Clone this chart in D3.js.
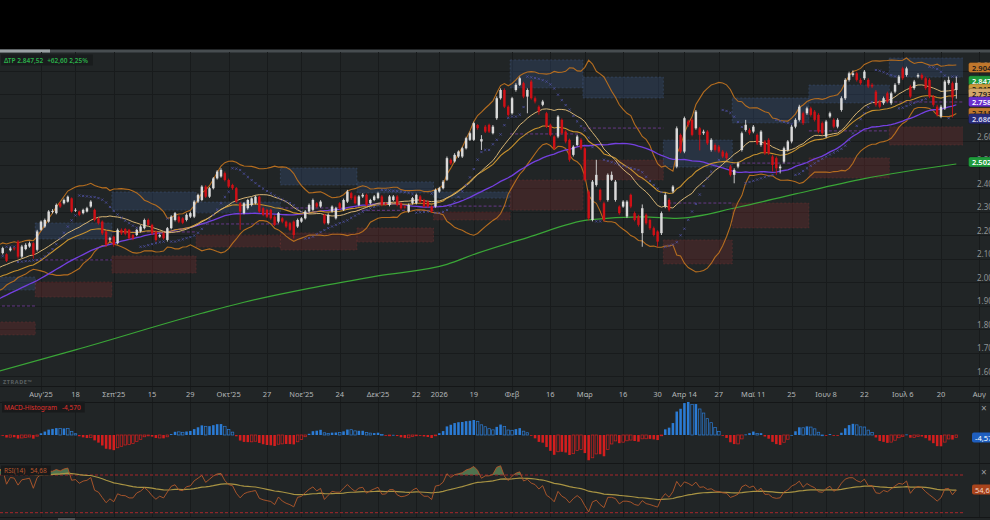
<!DOCTYPE html>
<html>
<head>
<meta charset="utf-8">
<script src="https://cdn.jsdelivr.net/npm/d3@7"></script>
<style>
  body { margin: 0; background: #000; }
  svg { display: block; font-family: "Noto Sans", Roboto, sans-serif; }
</style>
</head>
<body>
<svg id="chart" width="990" height="520"></svg>
<script>
// ---- data (price in index points) ----
const startDate = "2025-07-18";
const holidays = ["2025-08-15","2025-10-28","2025-12-24","2025-12-25","2025-12-26","2026-01-01","2026-01-06",
  "2026-02-23","2026-03-25","2026-04-08","2026-04-09","2026-04-10","2026-04-13","2026-05-01","2026-06-01"];

const opens = [2130,2123,2118,2135,2143,2172,2108,2140,2151,
  2165,2137,2222,2236,2257,2298,2293,2335,2335,2342,
  2356,2305,2300,2293,2300,2321,2307,2271,2257,2215,
  2180,2193,2165,2222,2225,2222,2200,2200,2215,2229,
  2264,2243,2215,2193,2207,2179,2229,2264,2278,2271,
  2264,2278,2278,2342,2349,2406,2363,2399,2441,2449,
  2463,2434,2413,2399,2335,2293,2314,2328,2335,2363,
  2314,2307,2307,2278,2257,2271,2257,2250,2257,2236,
  2257,2271,2300,2307,2335,2321,
  2286,2250,2300,2271,2335,2307,2342,2378,2364,2328,
  2364,2371,2335,2349,2357,2364,2335,2328,2349,2364,
  2335,2321,2300,2335,2335,2364,2349,2342,2321,2321,
  2385,2399,2435,2520,2513,2534,2534,2569,2605,2605,
  2668,2598,2661,2669,2633,2697,2782,2817,2746,2718,
  2817,2839,2846,2789,2853,2782,2746,2754,2718,2669,
  2619,2619,2690,2640,2605,2541,2583,2605,2569,2385,
  2264,2413,2392,2335,2349,2435,2349,2321,2321,2279,
  2371,2293,2279,
  2208,2286,2264,2229,2215,2208,2321,2349,2385,2491,
  2626,2555,2683,2690,2654,2654,2633,2640,2562,2583,
  2576,2555,2548,2491,2456,2491,2562,2647,2647,2640,
  2626,2583,2598,2605,2534,2527,2484,2512,2562,2598,
  2661,2690,2718,2718,2739,2725,2711,2676,2619,2704,
  2690,2661,2732,2782,2860,2881,2888,2860,2867,2860,
  2839,2810,2768,2761,2803,2761,2810,2846,2909,2881,
  2832,2825,2874,2881,2867,2860,2789,2746,2704,2739,
  2846,2846,2817];
const highs = [2140,2150,2122,2150,2148,2178,2158,2165,2172,
  2170,2222,2262,2270,2306,2310,2334,2340,2355,2368,
  2360,2314,2304,2312,2320,2348,2312,2276,2262,2220,
  2192,2198,2228,2228,2230,2226,2205,2226,2242,2270,
  2270,2248,2220,2206,2212,2234,2284,2298,2284,2276,
  2292,2300,2348,2376,2412,2412,2404,2447,2476,2484,
  2470,2440,2418,2404,2340,2340,2354,2360,2368,2368,
  2320,2312,2312,2284,2298,2276,2262,2255,2262,2270,
  2276,2306,2334,2355,2340,2348,
  2290,2292,2326,2320,2340,2355,2392,2384,2370,2370,
  2378,2376,2354,2370,2384,2370,2340,2370,2370,2370,
  2340,2326,2334,2362,2376,2370,2354,2348,2326,2398,
  2405,2434,2534,2526,2548,2560,2575,2618,2640,2682,
  2672,2625,2668,2674,2668,2790,2824,2824,2752,2788,
  2846,2874,2852,2824,2860,2790,2752,2775,2724,2674,
  2624,2710,2696,2646,2610,2582,2626,2612,2574,2392,
  2434,2520,2398,2342,2462,2470,2434,2326,2348,2348,
  2376,2300,2286,
  2330,2292,2270,2236,2220,2300,2380,2356,2412,2662,
  2632,2704,2690,2697,2732,2660,2648,2646,2612,2590,
  2583,2562,2555,2498,2484,2512,2640,2690,2654,2668,
  2632,2646,2604,2612,2540,2534,2500,2576,2604,2668,
  2697,2754,2725,2746,2746,2732,2718,2683,2690,2725,
  2697,2697,2790,2867,2895,2900,2895,2867,2902,2867,
  2846,2817,2775,2789,2810,2810,2846,2881,2916,2916,
  2839,2860,2888,2888,2874,2867,2796,2754,2754,2860,
  2874,2853,2874];
const lows = [2118,2117,2085,2130,2134,2100,2102,2135,2146,
  2100,2130,2218,2230,2252,2292,2288,2315,2330,2338,
  2295,2298,2280,2288,2296,2316,2258,2244,2200,2150,
  2172,2150,2160,2200,2198,2180,2178,2195,2210,2224,
  2238,2200,2172,2188,2180,2172,2224,2258,2250,2246,
  2258,2272,2272,2336,2344,2358,2358,2394,2436,2444,
  2428,2400,2392,2336,2222,2288,2308,2322,2330,2294,
  2280,2272,2265,2238,2250,2250,2230,2216,2185,2230,
  2252,2266,2295,2302,2316,2316,
  2245,2244,2295,2266,2308,2302,2336,2350,2330,2322,
  2358,2322,2330,2344,2352,2322,2325,2322,2344,2322,
  2308,2312,2295,2330,2330,2336,2316,2316,2294,2316,
  2380,2394,2430,2498,2508,2528,2528,2564,2600,2600,
  2648,2562,2634,2634,2628,2690,2776,2740,2704,2712,
  2810,2834,2782,2718,2776,2760,2712,2748,2655,2620,
  2562,2612,2626,2590,2512,2534,2578,2562,2428,2262,
  2258,2406,2342,2258,2342,2430,2342,2286,2316,2272,
  2314,2258,2236,
  2150,2244,2222,2194,2150,2200,2314,2300,2378,2484,
  2548,2548,2660,2620,2648,2560,2626,2583,2555,2555,
  2548,2527,2520,2449,2420,2484,2555,2640,2626,2633,
  2583,2576,2541,2541,2470,2456,2462,2505,2555,2590,
  2654,2683,2668,2711,2704,2683,2633,2626,2612,2697,
  2654,2654,2725,2775,2853,2874,2853,2839,2860,2825,
  2825,2746,2739,2754,2761,2754,2803,2839,2860,2874,
  2782,2818,2867,2860,2818,2782,2746,2704,2697,2732,
  2839,2700,2780];
const closes = [2128,2144,2090,2143,2140,2108,2151,2158,2165,
  2115,2215,2257,2264,2300,2302,2328,2321,2349,2363,
  2300,2307,2286,2307,2314,2342,2264,2250,2207,2158,
  2186,2158,2222,2207,2205,2186,2186,2222,2236,2264,
  2243,2207,2179,2200,2186,2229,2278,2293,2257,2252,
  2286,2293,2342,2371,2406,2363,2399,2441,2470,2477,
  2434,2406,2399,2342,2300,2335,2349,2356,2363,2300,
  2286,2278,2271,2243,2293,2257,2236,2222,2200,2264,
  2271,2300,2328,2349,2321,2342,
  2250,2286,2321,2314,2314,2349,2385,2357,2335,2364,
  2371,2328,2349,2364,2378,2328,2330,2364,2364,2328,
  2314,2318,2328,2357,2371,2342,2321,2321,2300,2392,
  2399,2427,2527,2505,2541,2555,2569,2612,2633,2676,
  2655,2608,2640,2640,2661,2782,2817,2746,2711,2782,
  2839,2867,2789,2817,2782,2768,2725,2768,2661,2626,
  2569,2704,2633,2598,2520,2576,2619,2569,2435,2271,
  2427,2456,2349,2264,2456,2456,2427,2293,2342,2342,
  2321,2264,2243,
  2314,2250,2229,2200,2172,2293,2371,2307,2406,2654,
  2555,2697,2669,2626,2725,2626,2640,2590,2605,2562,
  2555,2534,2527,2456,2477,2505,2633,2669,2633,2661,
  2590,2640,2548,2548,2498,2484,2491,2569,2598,2661,
  2690,2746,2676,2739,2711,2690,2640,2633,2683,2718,
  2661,2690,2782,2860,2888,2888,2860,2846,2895,2832,
  2832,2754,2746,2782,2768,2803,2839,2874,2867,2909,
  2789,2853,2881,2867,2825,2789,2754,2711,2746,2853,
  2860,2785,2847.52];

// estimated closes before the first visible candle (feed the indicators)
const priorCloses = [1698,1712,1705,1731,1744,1729,1756,1771,1764,1778,1802,1790,1811,1826,1812,1838,1853,1840,1868,1879,
  1866,1893,1907,1895,1921,1934,1918,1947,1962,1950,1976,1985,1972,2001,2017,2003,2029,2041,2026,2055,
  2068,2052,2080,2094,2083,2105,2112,2101,2127,2134];

// 200-day average, read at a few points
const sma200Idx = [0,20,53,64,81,99,117,125,138,154,168,177,193,208,226,250];
const sma200Val = [1621,1711,1867,1914,1973,2026,2075,2123,2189,2264,2277,2271,2318,2375,2440,2502.2];

// monthly zones
const zoneMonths = ["2025-07","2025-08","2025-09","2025-10","2025-11","2025-12","2026-01","2026-02","2026-03","2026-04","2026-05","2026-06","2026-07"];
const zoneBlueTop = [2021,2251,2383,2340,2485,2426,2383,2945,2872,2604,2783,2838,2953];
const zoneBlueBot = [1966,2183,2306,2294,2413,2379,2357,2826,2783,2489,2677,2762,2872];
const zoneRedTop  = [1830,2000,2111,2200,2209,2230,2298,2434,2519,2179,2336,2528,2660];
const zoneRedBot  = [1775,1936,2038,2149,2136,2170,2264,2306,2434,2077,2230,2443,2583];
const zonePivot   = [1898,2094,2213,2247,2315,2305,2323,2630,2655,2336,2506,2643,2766];

const tickDates = ["2025-08-04","2025-08-18","2025-09-01","2025-09-15","2025-09-29","2025-10-13","2025-10-27","2025-11-10","2025-11-24",
  "2025-12-08","2025-12-22","2026-01-05","2026-01-19","2026-02-02","2026-02-16","2026-03-02","2026-03-16","2026-03-30","2026-04-14",
  "2026-04-27","2026-05-11","2026-05-25","2026-06-08","2026-06-22","2026-07-06","2026-07-20","2026-08-03"];
const tickLabels = ["Αυγ'25","18","Σεπ'25","15","29","Οκτ'25","27","Νοε'25","24","Δεκ'25","22","2026","19","Φεβ","16","Μαρ","16","30",
  "Απρ 14","27","Μαϊ 11","25","Ιουν 8","22","Ιουλ 6","20","Αυγ"];
const priceTicks = [1600,1700,1800,1900,2000,2100,2200,2300,2400,2500,2600,2700,2800,2900];

const lastVals  = [2904.1, 2847.52, 2812.6, 2793.4, 2758.3, 2711.8, 2686.5, 2502.2];
const lastTexts = ["2.904,1","2.847,52","2.812,6","2.793,4","2.758,3","2.711,8","2.686,5","2.502,2"];
const lastFills = ["#c0772c","#1f9a3b","#c99a3c","#d2a66a","#6a2fcc","#c0772c","#2a2c78","#1f9a3b"];
const lastInk   = ["#1a1a1a","#ffffff","#1a1a1a","#1a1a1a","#ffffff","#1a1a1a","#d8d8f0","#ffffff"];

// ---- calendar ----
const parse = d3.utcParse("%Y-%m-%d"), fmt = d3.utcFormat("%Y-%m-%d");
const hol = new Set(holidays);
const days = d3.utcDays(parse(startDate), parse("2026-08-08"))
  .filter(d => d.getUTCDay() % 6 !== 0 && !hol.has(fmt(d)));
const dayIndex = new Map(days.map((d, i) => [fmt(d), i]));

// ---- indicators ----
const P = priorCloses.length, N = closes.length;
const allC = priorCloses.concat(closes);
const allH = priorCloses.concat(highs), allL = priorCloses.concat(lows);

const sma = (a, n) => a.map((v, i) => i < n - 1 ? null : d3.mean(a.slice(i - n + 1, i + 1)));
const pstd = (a, n) => a.map((v, i) => {
  if (i < n - 1) return null;
  const s = a.slice(i - n + 1, i + 1), m = d3.mean(s);
  return Math.sqrt(d3.mean(s, q => (q - m) * (q - m)));
});
const ema = (a, n) => { const k = 2 / (n + 1); let e = null;
  return a.map(v => { if (v == null) return null; e = e == null ? v : v * k + e * (1 - k); return e; }); };

const mid = sma(allC, 20), sd = pstd(allC, 20);
const bbUp = mid.map((m, i) => m == null ? null : m + 2 * sd[i]);
const bbLo = mid.map((m, i) => m == null ? null : m - 2 * sd[i]);
const ema30 = ema(allC, 30);
const sma50 = sma(allC, 50);

const e12 = ema(allC, 12), e26 = ema(allC, 26);
const macd = e12.map((v, i) => v - e26[i]);
const sig = ema(macd, 9);
const hist = macd.map((v, i) => v - sig[i]);

function rsiCalc(a, n) {
  const out = [null]; let ag = 0, al = 0;
  for (let i = 1; i < a.length; i++) {
    const ch = a[i] - a[i - 1], g = Math.max(ch, 0), l = Math.max(-ch, 0);
    if (i <= n) { ag += g / n; al += l / n; out.push(i === n ? 100 - 100 / (1 + ag / (al || 1e-9)) : null); }
    else { ag = (ag * (n - 1) + g) / n; al = (al * (n - 1) + l) / n; out.push(100 - 100 / (1 + ag / (al || 1e-9))); }
  }
  return out;
}
const rsi = rsiCalc(allC, 14);
const rsiMa = ema(rsi, 30);

function psar(h, l) {
  let up = true, af = 0.02, ep = h[0], s = l[0]; const out = [s];
  for (let i = 1; i < h.length; i++) {
    s = s + af * (ep - s);
    if (up) {
      s = Math.min(s, l[i - 1], l[Math.max(i - 2, 0)]);
      if (l[i] < s) { up = false; s = ep; ep = l[i]; af = 0.02; }
      else if (h[i] > ep) { ep = h[i]; af = Math.min(af + 0.02, 0.2); }
    } else {
      s = Math.max(s, h[i - 1], h[Math.max(i - 2, 0)]);
      if (h[i] > s) { up = true; s = ep; ep = h[i]; af = 0.02; }
      else if (l[i] < ep) { ep = l[i]; af = Math.min(af + 0.02, 0.2); }
    }
    out.push(s);
  }
  return out;
}
const sar = psar(allH, allL);

const vis = a => a.slice(P);

// ---- scales ----
const W = 990, plotR = 963;
const x = d3.scaleLinear()
  .domain([dayIndex.get("2025-08-04"), dayIndex.get("2026-07-20")])
  .range([41, 941]);
const step = x(1) - x(0);
const y = d3.scaleLinear().domain([1600, 2900]).range([376, 70.5]);
const yR = d3.scaleLinear().domain([30, 70]).range([512.7, 475]);
const hVis = vis(hist);
const yM = d3.scaleLinear().domain([0, d3.max(hVis)]).range([435, 402]);

const svg = d3.select("#chart");
const defs = svg.append("defs");
defs.append("clipPath").attr("id", "cp").append("rect").attr("x", 0).attr("y", 52).attr("width", plotR).attr("height", 334);
defs.append("clipPath").attr("id", "cm").append("rect").attr("x", 0).attr("y", 402).attr("width", plotR).attr("height", 61);
defs.append("clipPath").attr("id", "cr").append("rect").attr("x", 0).attr("y", 463).attr("width", plotR).attr("height", 54);
defs.append("clipPath").attr("id", "cover").append("rect").attr("x", 0).attr("y", 463).attr("width", plotR).attr("height", yR(70) - 463);

// a row of label pieces, each placed after the previous one
const textRow = (g, x0, yy, size, color, parts, gap) => {
  let cx = x0;
  parts.forEach(p => {
    const t = g.append("text").attr("x", cx).attr("y", yy).attr("font-size", size).attr("fill", color).text(p);
    cx += t.node().getComputedTextLength() + gap;
  });
  return cx - gap;
};

// backgrounds
svg.append("rect").attr("width", W).attr("height", 520).attr("fill", "#000");
svg.append("rect").attr("y", 52).attr("width", W).attr("height", 468).attr("fill", "#212526");
svg.append("rect").attr("y", 49.5).attr("width", W).attr("height", 3).attr("fill", "#474d50");
svg.append("rect").attr("y", 49.5).attr("width", 50).attr("height", 3).attr("fill", "#9aa0a3");

// grid
const grid = svg.append("g").attr("stroke", "#181b1c").attr("stroke-width", 1);
tickDates.forEach(d => {
  const xx = Math.round(x(dayIndex.get(d))) + 0.5;
  grid.append("line").attr("x1", xx).attr("x2", xx).attr("y1", 52).attr("y2", 517);
});
priceTicks.forEach(v => {
  const yy = Math.round(y(v)) + 0.5;
  grid.append("line").attr("x1", 0).attr("x2", W).attr("y1", yy).attr("y2", yy);
});
[386.5, 402.5, 463.5, 517.5].forEach(yy =>
  svg.append("line").attr("x1", 0).attr("x2", W).attr("y1", yy).attr("y2", yy).attr("stroke", "#141617"));

// ---- price panel ----
const pp = svg.append("g").attr("clip-path", "url(#cp)");

zoneMonths.forEach((m, k) => {
  const idx = days.map((d, i) => fmt(d).slice(0, 7) === m ? i : -1).filter(i => i >= 0);
  const x0 = x(d3.min(idx)) - step / 2, x1 = x(d3.max(idx)) + step / 2;
  pp.append("rect").attr("x", x0).attr("width", x1 - x0)
    .attr("y", y(zoneBlueTop[k])).attr("height", y(zoneBlueBot[k]) - y(zoneBlueTop[k]))
    .attr("fill", "#3d5a8c").attr("fill-opacity", 0.28)
    .attr("stroke", "#4a6596").attr("stroke-opacity", 0.35).attr("stroke-dasharray", "2,2");
  pp.append("rect").attr("x", x0).attr("width", x1 - x0)
    .attr("y", y(zoneRedTop[k])).attr("height", y(zoneRedBot[k]) - y(zoneRedTop[k]))
    .attr("fill", "#8a3030").attr("fill-opacity", 0.28)
    .attr("stroke", "#8a3a3a").attr("stroke-opacity", 0.3).attr("stroke-dasharray", "2,2");
  pp.append("line").attr("x1", x0).attr("x2", x1).attr("y1", y(zonePivot[k])).attr("y2", y(zonePivot[k]))
    .attr("stroke", "#7d3fa8").attr("stroke-opacity", 0.75).attr("stroke-dasharray", "3,2");
});

const line = d3.line().defined(d => d != null).x((d, i) => x(i)).y(d => y(d));
const addLine = (data, color, w) => pp.append("path").datum(data).attr("d", line)
  .attr("fill", "none").attr("stroke", color).attr("stroke-width", w);

pp.append("path").datum(sma200Idx.map((v, k) => [v, sma200Val[k]]))
  .attr("d", d3.line().x(d => x(d[0])).y(d => y(d[1])).curve(d3.curveMonotoneX))
  .attr("fill", "none").attr("stroke", "#3aa637").attr("stroke-width", 1.2);
addLine(vis(bbUp), "#b56d1f", 1.1);
addLine(vis(bbLo), "#b56d1f", 1.1);
addLine(vis(sma50), "#7440e0", 1.3);
addLine(vis(ema30), "#c8922e", 1.1);
addLine(vis(mid), "#d6b474", 1);

// SAR crosses
const sarVis = vis(sar);
pp.append("g").attr("stroke", "#4c4f9e").attr("stroke-width", 0.8)
  .selectAll("path").data(sarVis).join("path")
  .attr("d", (d, i) => { const cx = x(i), cy = y(d), r = 1.1;
    return `M${cx - r},${cy - r}L${cx + r},${cy + r}M${cx - r},${cy + r}L${cx + r},${cy - r}`; });

// candles
const cg = pp.append("g");
const bw = step * 0.64;
d3.range(N).forEach(i => {
  const up = closes[i] >= opens[i], col = up ? "#dadada" : "#cf1016";
  cg.append("line").attr("x1", x(i)).attr("x2", x(i)).attr("y1", y(highs[i])).attr("y2", y(lows[i]))
    .attr("stroke", col).attr("stroke-width", 0.9);
  const top = y(Math.max(opens[i], closes[i])), bot = y(Math.min(opens[i], closes[i]));
  cg.append("rect").attr("x", x(i) - bw / 2).attr("width", bw).attr("y", top)
    .attr("height", Math.max(bot - top, 0.9)).attr("fill", col);
});

// top-left info
const infoBox = svg.append("rect").attr("x", 1).attr("y", 54.5).attr("height", 11).attr("fill", "#191c1d");
const infoG = svg.append("g").attr("font-weight", 600);
const infoEnd = textRow(infoG, 4, 62.5, 6.5, "#2bb04a", ["ΔΤΡ 2.847,52", "+62,60 2,25%"], 4);
infoBox.attr("width", infoEnd + 4);

svg.append("text").attr("x", 3).attr("y", 384).attr("font-size", 5.5).attr("font-weight", 700)
  .attr("fill", "#5b6163").attr("letter-spacing", 0.6).text("ZTRADE™");

// x labels
svg.append("g").selectAll("text").data(tickDates).join("text")
  .attr("x", d => x(dayIndex.get(d))).attr("y", 396.5).attr("text-anchor", "middle")
  .attr("font-size", 7.5).attr("fill", "#b3b7b8").text((d, k) => tickLabels[k]);

// price axis labels (cut by the window edge, as in the original)
svg.append("g").selectAll("text").data(priceTicks.filter(v => y(v) < 384)).join("text")
  .attr("x", 977).attr("y", v => y(v) - 1.5).attr("font-size", 8).attr("fill", "#8e9395")
  .text(v => d3.format(",")(v).replace(",", "."));

// last-value tags
const tagOrder = d3.range(lastVals.length).sort((a, b) => y(lastVals[a]) - y(lastVals[b]));
tagOrder.forEach(k => {
  const yy = y(lastVals[k]) - 2;
  svg.append("rect").attr("x", 968.5).attr("y", yy - 5).attr("width", 30).attr("height", 10).attr("rx", 2)
    .attr("fill", lastFills[k]).attr("stroke", "#000").attr("stroke-opacity", 0.35).attr("stroke-width", 0.6);
  svg.append("text").attr("x", 972).attr("y", yy + 3).attr("font-size", 7.5).attr("font-weight", 600)
    .attr("fill", lastInk[k]).text(lastTexts[k]);
});

// ---- MACD histogram ----
const mp = svg.append("g").attr("clip-path", "url(#cm)");
const mbw = step * 0.66;
hVis.forEach((h, i) => {
  const prev = i > 0 ? hVis[i - 1] : h;
  const solid = h >= 0 ? h >= prev : h <= prev;
  const col = h >= 0 ? "#2b7bd4" : "#d41e1e";
  const y0 = yM(0), y1 = yM(h);
  const r = mp.append("rect").attr("x", x(i) - mbw / 2).attr("width", mbw)
    .attr("y", Math.min(y0, y1)).attr("height", Math.max(Math.abs(y1 - y0), 0.8));
  if (solid) r.attr("fill", col);
  else r.attr("fill", "none").attr("stroke", col).attr("stroke-width", 0.7);
});
const macdBox = svg.append("rect").attr("x", 2).attr("y", 401.5).attr("height", 11).attr("fill", "#181a1b");
const macdEnd = textRow(svg.append("g"), 4, 409.5, 6.5, "#e0312c", ["MACD-Histogram", "-4,570"], 5);
macdBox.attr("width", macdEnd + 2);
svg.append("rect").attr("x", 972).attr("y", 432.5).attr("width", 26).attr("height", 10).attr("rx", 2).attr("fill", "#1f5fbf");
svg.append("text").attr("x", 975).attr("y", 440.5).attr("font-size", 7.5).attr("fill", "#fff").text("-4,570");
svg.append("text").attr("x", 981).attr("y", 412).attr("font-size", 10).attr("fill", "#9a9ea0").text("×");

// ---- RSI ----
const rp = svg.append("g").attr("clip-path", "url(#cr)");
const rVis = vis(rsi), rmVis = vis(rsiMa);
rp.append("path").datum(rVis)
  .attr("d", d3.area().defined(d => d != null).x((d, i) => x(i)).y0(yR(70)).y1(d => yR(d)))
  .attr("fill", "#5f8c5c").attr("fill-opacity", 0.75).attr("clip-path", "url(#cover)");
[70, 30].forEach(v => rp.append("line").attr("x1", 0).attr("x2", plotR).attr("y1", yR(v)).attr("y2", yR(v))
  .attr("stroke", "#a8262a").attr("stroke-dasharray", "3,2"));
rp.append("path").datum(rmVis)
  .attr("d", d3.line().defined(d => d != null).x((d, i) => x(i)).y(d => yR(d)))
  .attr("fill", "none").attr("stroke", "#a99443").attr("stroke-width", 1.2);
rp.append("path").datum(rVis)
  .attr("d", d3.line().defined(d => d != null).x((d, i) => x(i)).y(d => yR(d)))
  .attr("fill", "none").attr("stroke", "#b3582a").attr("stroke-width", 0.9);
const rsiBox = svg.append("rect").attr("x", 1).attr("y", 465.5).attr("height", 10).attr("fill", "#181a1b");
const rsiEnd = textRow(svg.append("g"), 4, 473, 6.5, "#b8562c", ["RSI(14)", "54,68"], 5);
rsiBox.attr("width", rsiEnd + 3);
svg.append("rect").attr("x", 972).attr("y", 484.5).attr("width", 26).attr("height", 10).attr("rx", 2).attr("fill", "#a9441c");
svg.append("text").attr("x", 975).attr("y", 492.5).attr("font-size", 7.5).attr("fill", "#f2d6c8").text("54,68");
svg.append("text").attr("x", 981).attr("y", 476).attr("font-size", 10).attr("fill", "#9a9ea0").text("×");

// bottom strip
svg.append("rect").attr("x", 58).attr("y", 518).attr("width", 17).attr("height", 2).attr("fill", "#4a4f52");
</script>
</body>
</html>
